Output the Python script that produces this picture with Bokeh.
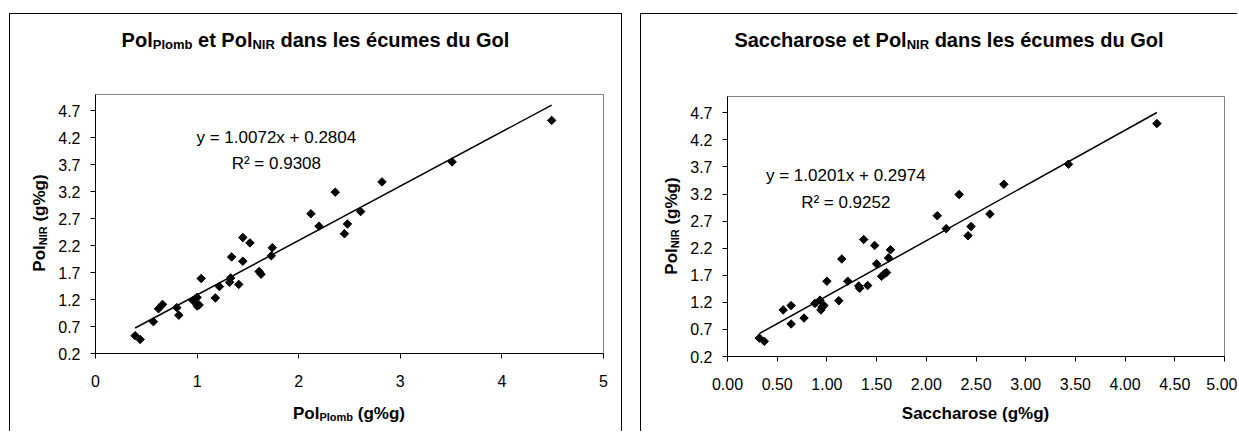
import numpy as np
from bokeh.plotting import figure
from bokeh.layouts import row, column
from bokeh.models import Label, FixedTicker, Range1d, NumeralTickFormatter, Div
from bokeh.embed import file_html
from bokeh.resources import INLINE

# ---------------- data ----------------
pol_plomb = [0.39, 0.44, 0.57, 0.62, 0.66, 0.80, 0.82, 0.96, 0.98, 1.00, 1.00, 1.02,
             1.04, 1.18, 1.22, 1.32, 1.33, 1.34, 1.41, 1.45, 1.45, 1.52, 1.61, 1.63,
             1.73, 1.74, 2.12, 2.20, 2.36, 2.45, 2.48, 2.61, 2.82, 3.51, 4.49]
pol_nir_a = [0.53, 0.46, 0.79, 1.03, 1.11, 1.05, 0.91, 1.18, 1.21, 1.24, 1.08, 1.10,
             1.59, 1.23, 1.44, 1.52, 1.60, 1.99, 1.48, 1.91, 2.35, 2.25, 1.72, 1.67,
             2.01, 2.16, 2.79, 2.56, 3.19, 2.42, 2.60, 2.83, 3.38, 3.75, 4.52]

saccharose = [0.32, 0.37, 0.56, 0.64, 0.64, 0.77, 0.88, 0.93, 0.94, 0.95, 0.97, 1.00,
              1.12, 1.15, 1.21, 1.32, 1.33, 1.37, 1.41, 1.48, 1.50, 1.55, 1.58, 1.60,
              1.62, 1.64, 2.11, 2.20, 2.33, 2.42, 2.45, 2.64, 2.78, 3.43, 4.32]
pol_nir_b = [0.54, 0.48, 1.06, 1.14, 0.80, 0.91, 1.18, 1.24, 1.06, 1.11, 1.14, 1.59,
             1.23, 2.00, 1.59, 1.50, 1.46, 2.36, 1.51, 2.25, 1.91, 1.68, 1.73, 1.75,
             2.02, 2.17, 2.80, 2.56, 3.19, 2.43, 2.60, 2.83, 3.38, 3.75, 4.50]

fit_a = (1.0072, 0.2804)
r2_a = "0.9308"
fit_b = (1.0201, 0.2974)
r2_b = "0.9252"

x_ticks_a = [0, 1, 2, 3, 4, 5]
x_ticks_b = [0.0, 0.5, 1.0, 1.5, 2.0, 2.5, 3.0, 3.5, 4.0, 4.5, 5.0]
y_ticks = [0.2, 0.7, 1.2, 1.7, 2.2, 2.7, 3.2, 3.7, 4.2, 4.7]

FONT = "Liberation Sans"
CSS_FONT = "font-family:'Liberation Sans',Arial,sans-serif;font-weight:bold;color:black;line-height:1;white-space:nowrap;"


def sub(t, size):
    return f'<span style="font-size:{size}px;vertical-align:-2px">{t}</span>'


def title_div(width, height, html, top, left_pad, size):
    txt = (f'<div style="position:relative;width:{width}px;height:{height}px;overflow:visible">'
           f'<div style="position:absolute;left:{left_pad}px;right:0;top:{top}px;text-align:center;'
           f'{CSS_FONT}font-size:{size}px">{html}</div></div>')
    return Div(text=txt, width=width, height=height, margin=(0, 0, 0, 0))


def vlabel_div(width, height, html, cx, cy, size):
    txt = (f'<div style="position:relative;width:{width}px;height:{height}px;overflow:visible">'
           f'<div style="position:absolute;left:{cx}px;top:{cy}px;'
           f'transform:translate(-50%,-50%) rotate(-90deg);{CSS_FONT}font-size:{size}px">{html}</div></div>')
    return Div(text=txt, width=width, height=height, margin=(0, 0, 0, 0))


def make_fig(width, height, mbl, mbr, mbt, mbb, xticks, xfmt):
    p = figure(width=width, height=height, output_backend="svg", toolbar_location=None,
               x_range=Range1d(0, 5), y_range=Range1d(0.2, 5.0),
               min_border_left=mbl, min_border_right=mbr,
               min_border_top=mbt, min_border_bottom=mbb,
               background_fill_color="white", border_fill_color="white")
    p.margin = (0, 0, 0, 0)
    p.xgrid.grid_line_color = None
    p.ygrid.grid_line_color = None
    p.outline_line_color = "#808080"
    p.outline_line_width = 1
    p.xaxis.ticker = FixedTicker(ticks=xticks)
    p.yaxis.ticker = FixedTicker(ticks=y_ticks)
    p.xaxis.formatter = NumeralTickFormatter(format=xfmt)
    p.yaxis.formatter = NumeralTickFormatter(format="0.0")
    for ax in (p.xaxis[0], p.yaxis[0]):
        ax.axis_line_color = "black"
        ax.axis_line_width = 1
        ax.major_tick_line_color = "black"
        ax.major_tick_in = 0
        ax.major_tick_out = 5
        ax.minor_tick_line_color = None
        ax.major_label_text_font = FONT
        ax.major_label_text_font_size = "16px"
        ax.major_label_text_color = "black"
    p.xaxis.major_label_standoff = 16
    p.yaxis.major_label_standoff = 10
    return p


def draw(p, xs, ys, fit, r2, eq_pos, r2_pos):
    slope, icpt = fit
    xl = np.array([min(xs), max(xs)])
    p.line(xl, slope * xl + icpt, line_color="black", line_width=1.5)
    p.scatter(xs, ys, marker="square", angle=np.pi / 4, size=6,
              fill_color="black", line_color="black")
    eq = f"y = {slope:.4f}x + {icpt:.4f}"
    for txt, (lx, ly) in ((eq, eq_pos), (f"R² = {r2}", r2_pos)):
        p.add_layout(Label(x=lx, y=ly, text=txt, text_align="center", text_baseline="middle",
                           text_font=FONT, text_font_size="17px", text_color="black"))


# ---------------- left chart ----------------
W1 = 611
p1 = make_fig(W1 - 45, 310, 40, 18, 6, 45, x_ticks_a, "0")
draw(p1, pol_plomb, pol_nir_a, fit_a, r2_a, (1.78, 4.21), (1.78, 3.73))
t1 = title_div(W1, 74, "Pol" + sub("Plomb", 13) + " et Pol" + sub("NIR", 13)
               + " dans les écumes du Gol", 16, 0, 20)
y1 = vlabel_div(45, 310, "Pol" + sub("NIR", 11) + " (g%g)", 30, 135, 17)
x1 = title_div(W1, 33, "Pol" + sub("Plomb", 11) + " (g%g)", 7, 67, 17)
c1 = column(t1, row(y1, p1), x1)
c1.margin = (13, 0, 0, 9)
c1.styles = {"border-top": "1px solid black", "border-left": "1px solid black",
             "border-right": "1px solid black"}

# ---------------- right chart ----------------
W2 = 596
p2 = make_fig(W2 - 45, 310, 41, 13, 8, 42, x_ticks_b, "0.00")
draw(p2, saccharose, pol_nir_b, fit_b, r2_b, (1.19, 3.55), (1.19, 3.04))
t2 = title_div(W2, 74, "Saccharose et Pol" + sub("NIR", 13) + " dans les écumes du Gol",
               16, 20, 20)
y2 = vlabel_div(45, 310, "Pol" + sub("NIR", 11) + " (g%g)", 31, 138, 17)
x2 = title_div(W2, 33, "Saccharose (g%g)", 7, 73, 17)
c2 = column(t2, row(y2, p2), x2)
c2.margin = (13, 0, 0, 18)
c2.styles = {"border-top": "1px solid black", "border-left": "1px solid black"}

layout = row(c1, c2)
open("out.html", "w").write(file_html(layout, INLINE))
